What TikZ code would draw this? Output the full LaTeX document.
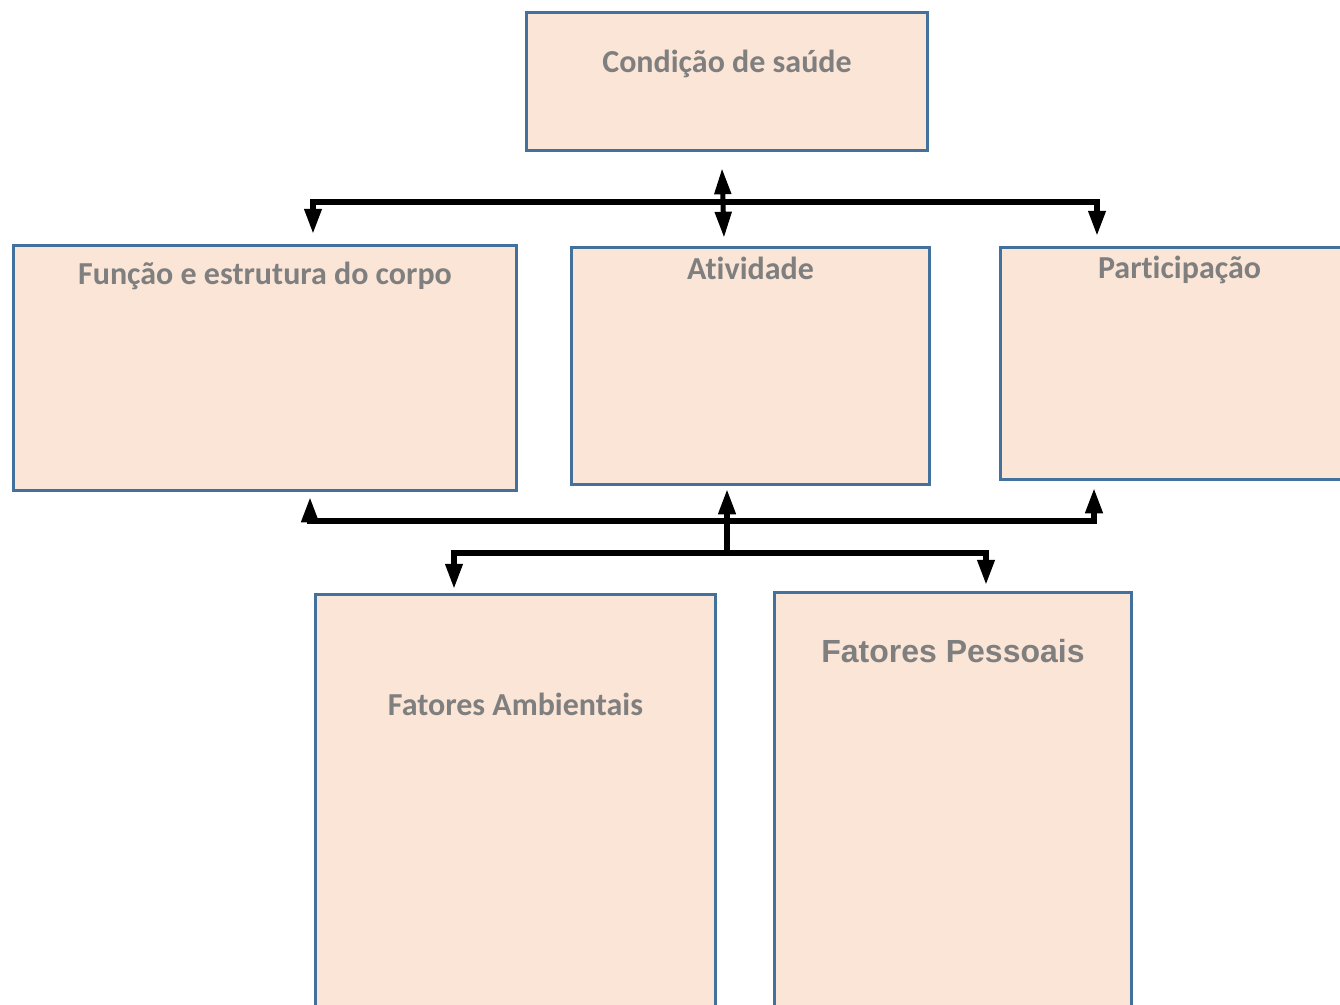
\documentclass[tikz,border=0pt]{standalone}
\usepackage{fontspec}
\setmainfont{Carlito}[Ligatures={NoCommon}]
\newfontfamily\arialfont{Liberation Sans}
\usetikzlibrary{arrows.meta, positioning, calc}
\definecolor{boxfill}{HTML}{FBE5D6}
\definecolor{boxline}{HTML}{41719C}
\definecolor{txtgray}{HTML}{7F7F7F}

\begin{document}
\begin{tikzpicture}[
  x=1pt, y=-1pt,
  box/.style={draw=boxline, fill=boxfill, line width=3.5pt, inner sep=0pt},
  title/.style={anchor=base, text=txtgray, font=\fontsize{32}{38}\selectfont\bfseries},
  arr/.style={-{Triangle[length=26pt, width=16pt]}, line width=6.5pt},
  dbl/.style={{Triangle[length=26pt, width=16pt]}-{Triangle[length=26pt, width=16pt]}, line width=5pt},
  bar/.style={line width=6pt},
]
  \useasboundingbox (0,0) rectangle (1340,1004);
  \clip (0,0) rectangle (1340,1004);

  % boxes
  \node[box, minimum width=401pt, minimum height=138pt,
        label={[title, yshift=-62pt]north:Condição de saúde}] (cond) at (727,81.5) {};
  \node[box, minimum width=503pt, minimum height=245pt,
        label={[title, yshift=-41pt]north:Função e estrutura do corpo}] (func) at (265,368) {};
  \node[box, minimum width=358pt, minimum height=237pt,
        label={[title, yshift=-34pt]north:At\kern0pt ividade}] (ativ) at (750.5,366) {};
  \node[box, minimum width=358pt, minimum height=232pt,
        label={[title, yshift=-33pt]north:Part\kern0pt icipação}] (part) at (1179.5,363.5) {};
  \node[box, minimum width=400pt, minimum height=460pt,
        label={[title, yshift=-123pt]north:Fatores Ambientais}] (amb) at (515.5,824.5) {};
  \node[box, minimum width=357pt, minimum height=460pt,
        label={[title, font=\arialfont\fontsize{32}{38}\selectfont\bfseries, yshift=-72pt]north:Fatores Pessoais}] (pess) at (953,822.5) {};

  % junctions
  \coordinate (hubT) at (722,202);
  \coordinate (hubB) at (727,521);
  \coordinate (hubM) at (727,553);

  % top links
  \draw[dbl] ([xshift=-5pt, yshift=-16pt]cond.south) -- ([xshift=-26.5pt, yshift=8pt]ativ.north);
  \draw[arr] (hubT) -| ([xshift=48pt, yshift=9pt]func.north);
  \draw[arr] (hubT) -| ([xshift=-82.5pt, yshift=9pt]part.north);

  % bottom links
  \draw[arr] (hubB) -| ([xshift=45pt, yshift=-4pt]func.south);
  \draw[arr] (hubB) -- ([xshift=-23.5pt, yshift=-2pt]ativ.south);
  \draw[arr] (hubB) -| ([xshift=-85.5pt, yshift=-6pt]part.south);
  \draw[bar] (hubB) -- (hubM);
  \draw[arr] (hubM) -| ([xshift=-61.5pt, yshift=3pt]amb.north);
  \draw[arr] (hubM) -| ([xshift=33pt, yshift=5pt]pess.north);
\end{tikzpicture}
\end{document}
